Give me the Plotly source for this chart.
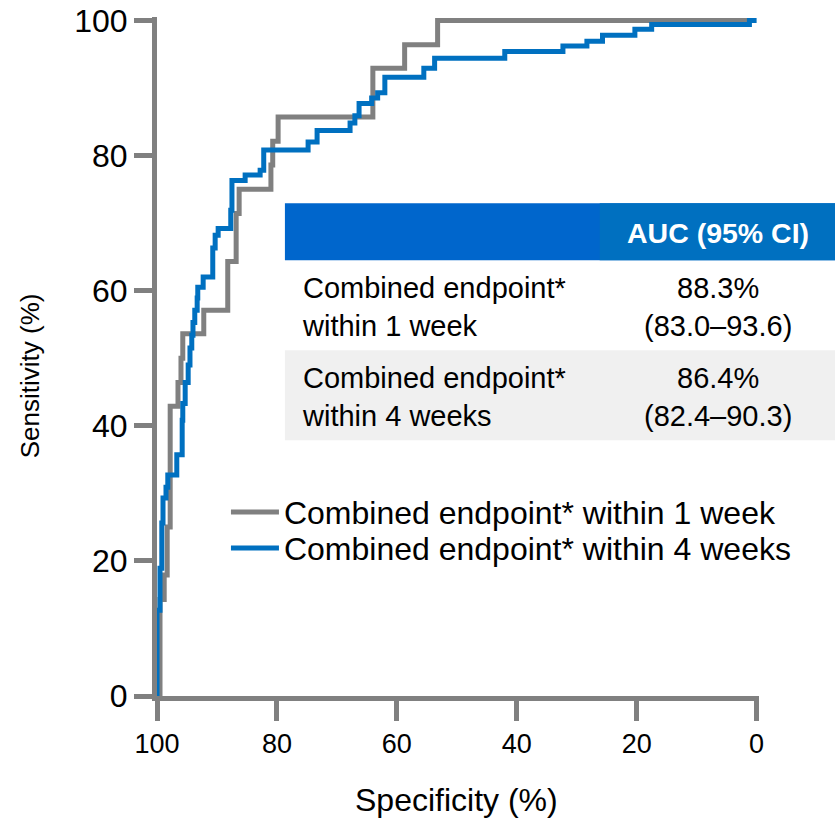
import plotly.graph_objects as go

# ROC curve corner points (specificity %, sensitivity %)
spec_1wk = [100, 99.5, 98.8, 98.3, 97.8, 96.5, 96.0, 95.7, 92.2, 88.2, 86.8, 86.3,
            81.0, 80.7, 79.8, 64.0, 58.7, 53.2, 1.2]
sens_1wk = [0, 14.3, 17.9, 25.0, 42.9, 46.4, 50.0, 53.6, 57.1, 64.3, 71.4, 75.0,
            78.6, 82.1, 85.7, 92.9, 96.4, 100, 100]

spec_4wk = [100, 100, 99.5, 99.2, 99.0, 98.5, 98.2, 96.7, 95.8, 95.7, 95.3, 94.8,
            94.5, 94.2, 94.0, 93.7, 93.3, 93.2, 92.3, 90.7, 90.3, 89.8, 87.7, 87.5,
            85.3, 82.8, 82.2, 74.8, 73.3, 67.8, 67.0, 66.3, 64.2, 63.2, 62.0, 55.5,
            53.7, 42.0, 32.3, 28.3, 25.7, 20.3, 17.5, 1.2, 0]
sens_4wk = [0, 12.7, 18.9, 25.6, 29.3, 30.9, 32.7, 35.7, 40.8, 43.3, 46.4, 49.0,
            51.5, 53.4, 55.3, 57.1, 58.9, 60.5, 62.0, 66.3, 68.2, 69.2, 71.9, 76.3,
            77.1, 77.8, 80.8, 82.0, 83.7, 84.8, 85.9, 87.7, 88.5, 89.3, 91.6, 92.9,
            94.4, 95.4, 96.2, 96.9, 97.8, 98.7, 99.4, 100, 100]

series_names = ["Combined endpoint* within 1 week", "Combined endpoint* within 4 weeks"]
series_colors = ["#808080", "#0070C0"]

x_ticks = [100, 80, 60, 40, 20, 0]
y_ticks = [0, 20, 40, 60, 80, 100]
x_title = "Specificity (%)"
y_title = "Sensitivity (%)"

table_header = "AUC (95% CI)"
table_rows = ["Combined endpoint*<br>within 1 week", "Combined endpoint*<br>within 4 weeks"]
table_auc = ["88.3%<br>(83.0–93.6)", "86.4%<br>(82.4–90.3)"]

GRAY = "#808080"
FONT = "Liberation Sans, Arial, sans-serif"

# the page body margin is removed (post_script below), so figure pixels equal screen pixels
W, H = 835, 820
SL, SB = 157, 696          # position of the plot's left / bottom edge
pw = 602.4
ph = 679.4
l = SL
b = H - SB
r = W - l - pw
t = H - b - ph

def px(xpix):
    return (xpix - SL) / pw

def py(ypix):
    return (SB - ypix) / ph

fig = go.Figure()
legend_ids = ["legend", "legend2"]
for sx, sy, name, col, lg in [(spec_1wk, sens_1wk, series_names[0], series_colors[0], legend_ids[0]),
                              (spec_4wk, sens_4wk, series_names[1], series_colors[1], legend_ids[1])]:
    fig.add_trace(go.Scatter(x=sx, y=sy, mode="lines", name=name, legend=lg,
                             line=dict(shape="hv", width=5, color=col)))

leg_common = dict(xanchor="left", yanchor="middle", font=dict(size=32, family=FONT),
                  bgcolor="rgba(0,0,0,0)", itemwidth=48, borderwidth=0)

fig.update_layout(
    width=W, height=H,
    margin=dict(l=l, r=r, t=t, b=b, pad=0, autoexpand=False),
    paper_bgcolor="white", plot_bgcolor="white",
    font=dict(family=FONT, color="black"),
    showlegend=True,
    legend=dict(x=px(226), y=py(512), **leg_common),
    legend2=dict(x=px(226), y=py(548), **leg_common),
    xaxis=dict(range=[100, -0.4], tickvals=x_ticks, ticktext=[str(v) for v in x_ticks],
               showline=True, linecolor=GRAY, linewidth=5, mirror=False,
               ticks="outside", ticklen=20, tickwidth=5, tickcolor=GRAY,
               showgrid=False, zeroline=False, automargin=False,
               ticklabeloverflow="allow",
               tickfont=dict(size=27, family=FONT)),
    yaxis=dict(range=[0, 100.5], tickvals=y_ticks, ticktext=[str(v) for v in y_ticks],
               showline=True, linecolor=GRAY, linewidth=5, mirror=False,
               ticks="outside", ticklen=18, tickwidth=5, tickcolor=GRAY,
               showgrid=False, zeroline=False, automargin=False,
               ticklabeloverflow="allow",
               tickfont=dict(size=32, family=FONT)),
)

# axis titles
fig.add_annotation(xref="paper", yref="paper", x=px(457), y=py(800), text=x_title,
                   showarrow=False, xanchor="center", yanchor="middle",
                   font=dict(size=32, color="black", family=FONT))
fig.add_annotation(xref="paper", yref="paper", x=px(30), y=py(376), text=y_title, textangle=-90,
                   showarrow=False, xanchor="center", yanchor="middle",
                   font=dict(size=26, color="black", family=FONT))

# table background
fig.add_shape(type="rect", xref="paper", yref="paper", x0=px(285), x1=px(840),
              y0=py(260), y1=py(203), fillcolor="#0066CC", line_width=0, layer="below")
fig.add_shape(type="rect", xref="paper", yref="paper", x0=px(600), x1=px(840),
              y0=py(260), y1=py(203), fillcolor="#0070C0", line_width=0, layer="below")
fig.add_shape(type="rect", xref="paper", yref="paper", x0=px(285), x1=px(840),
              y0=py(440), y1=py(350), fillcolor="#F0F0F0", line_width=0, layer="below")

fig.add_annotation(xref="paper", yref="paper", x=px(718), y=py(233), text="<b>" + table_header + "</b>",
                   showarrow=False, xanchor="center", yanchor="middle",
                   font=dict(size=28.5, color="white", family=FONT))
row_centers = [307, 397]
for i in range(2):
    fig.add_annotation(xref="paper", yref="paper", x=px(300), y=py(row_centers[i]), text=table_rows[i],
                       showarrow=False, xanchor="left", yanchor="middle", align="left",
                       font=dict(size=29, color="black", family=FONT))
    fig.add_annotation(xref="paper", yref="paper", x=px(718), y=py(row_centers[i]), text=table_auc[i],
                       showarrow=False, xanchor="center", yanchor="middle", align="center",
                       font=dict(size=29, color="black", family=FONT))

fig.write_html("out.html", config={"displayModeBar": False},
               post_script="document.body.style.margin='0';")
